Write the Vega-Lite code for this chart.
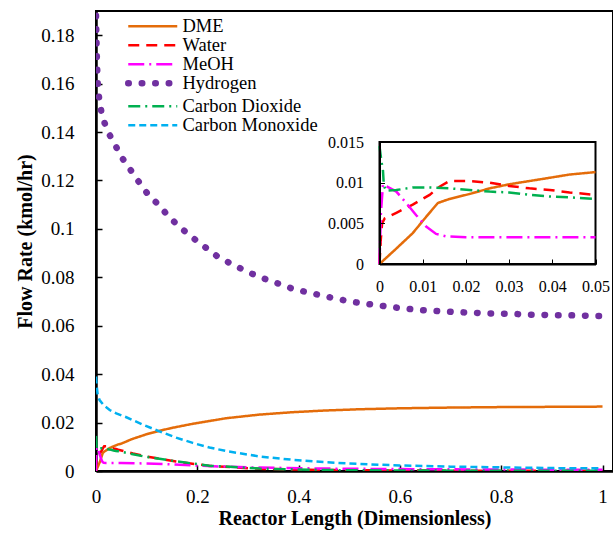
{
  "$schema": "https://vega.github.io/schema/vega-lite/v6.json",
  "width": 517,
  "height": 460,
  "autosize": {"type": "none"},
  "padding": {"left": 96, "top": 11, "right": 0, "bottom": 67},
  "background": "white",
  "config": {
    "font": "Liberation Serif",
    "legend": {"labelFont": "Liberation Serif", "titleFont": "Liberation Serif"},
    "view": {"stroke": "black", "strokeWidth": 2},
    "axis": {"grid": false, "labelColor": "black", "tickColor": "black", "domainColor": "black", "labelFont": "Liberation Serif", "titleFont": "Liberation Serif", "titleColor": "black", "labelFlush": false, "labelOverlap": false}
  },
  "datasets": {
    "d": [
      {"s": "DME", "x": 0, "y": 0}, {"s": "DME", "x": 0.0039, "y": 0.0019}, {"s": "DME", "x": 0.0077, "y": 0.0038}, {"s": "DME", "x": 0.0108, "y": 0.0058}, {"s": "DME", "x": 0.0135, "y": 0.0075}, {"s": "DME", "x": 0.0162, "y": 0.008}, {"s": "DME", "x": 0.0208, "y": 0.0086}, {"s": "DME", "x": 0.0255, "y": 0.0093}, {"s": "DME", "x": 0.03, "y": 0.0098}, {"s": "DME", "x": 0.0347, "y": 0.0102}, {"s": "DME", "x": 0.0394, "y": 0.0106}, {"s": "DME", "x": 0.044, "y": 0.011}, {"s": "DME", "x": 0.05, "y": 0.0113}, {"s": "DME", "x": 0.07, "y": 0.0131}, {"s": "DME", "x": 0.1, "y": 0.0152}, {"s": "DME", "x": 0.125, "y": 0.0166}, {"s": "DME", "x": 0.15, "y": 0.0178}, {"s": "DME", "x": 0.191, "y": 0.0195}, {"s": "DME", "x": 0.257, "y": 0.0218}, {"s": "DME", "x": 0.323, "y": 0.0233}, {"s": "DME", "x": 0.389, "y": 0.0243}, {"s": "DME", "x": 0.454, "y": 0.025}, {"s": "DME", "x": 0.52, "y": 0.0255}, {"s": "DME", "x": 0.6, "y": 0.0259}, {"s": "DME", "x": 0.7, "y": 0.0262}, {"s": "DME", "x": 0.8, "y": 0.0264}, {"s": "DME", "x": 0.9, "y": 0.0265}, {"s": "DME", "x": 1.0, "y": 0.0266},
      {"s": "Water", "x": 0, "y": 0}, {"s": "Water", "x": 0.0003, "y": 0.003}, {"s": "Water", "x": 0.0006, "y": 0.005}, {"s": "Water", "x": 0.0012, "y": 0.0056}, {"s": "Water", "x": 0.0039, "y": 0.0063}, {"s": "Water", "x": 0.0077, "y": 0.0073}, {"s": "Water", "x": 0.0116, "y": 0.0085}, {"s": "Water", "x": 0.0139, "y": 0.0095}, {"s": "Water", "x": 0.0162, "y": 0.0102}, {"s": "Water", "x": 0.0208, "y": 0.0102}, {"s": "Water", "x": 0.0255, "y": 0.01}, {"s": "Water", "x": 0.03, "y": 0.0096}, {"s": "Water", "x": 0.0347, "y": 0.0093}, {"s": "Water", "x": 0.0394, "y": 0.0091}, {"s": "Water", "x": 0.044, "y": 0.0088}, {"s": "Water", "x": 0.05, "y": 0.0085}, {"s": "Water", "x": 0.073, "y": 0.0072}, {"s": "Water", "x": 0.1, "y": 0.006}, {"s": "Water", "x": 0.158, "y": 0.0039}, {"s": "Water", "x": 0.224, "y": 0.0021}, {"s": "Water", "x": 0.323, "y": 0.0009}, {"s": "Water", "x": 0.45, "y": 0.0004}, {"s": "Water", "x": 0.6, "y": 0.0002}, {"s": "Water", "x": 0.8, "y": 0.0001}, {"s": "Water", "x": 1.0, "y": 0.0001},
      {"s": "MeOH", "x": 0, "y": 0}, {"s": "MeOH", "x": 0.0003, "y": 0.006}, {"s": "MeOH", "x": 0.0008, "y": 0.0098}, {"s": "MeOH", "x": 0.0039, "y": 0.0089}, {"s": "MeOH", "x": 0.0062, "y": 0.0075}, {"s": "MeOH", "x": 0.0085, "y": 0.006}, {"s": "MeOH", "x": 0.0108, "y": 0.0046}, {"s": "MeOH", "x": 0.0131, "y": 0.0037}, {"s": "MeOH", "x": 0.0154, "y": 0.0034}, {"s": "MeOH", "x": 0.02, "y": 0.0033}, {"s": "MeOH", "x": 0.03, "y": 0.0033}, {"s": "MeOH", "x": 0.04, "y": 0.0033}, {"s": "MeOH", "x": 0.05, "y": 0.0033}, {"s": "MeOH", "x": 0.1, "y": 0.0031}, {"s": "MeOH", "x": 0.15, "y": 0.0027}, {"s": "MeOH", "x": 0.2, "y": 0.0022}, {"s": "MeOH", "x": 0.3, "y": 0.0015}, {"s": "MeOH", "x": 0.45, "y": 0.001}, {"s": "MeOH", "x": 0.6, "y": 0.0008}, {"s": "MeOH", "x": 0.8, "y": 0.0006}, {"s": "MeOH", "x": 1.0, "y": 0.0005},
      {"s": "Hydrogen", "x": 0, "y": 0.188}, {"s": "Hydrogen", "x": 0.001, "y": 0.177}, {"s": "Hydrogen", "x": 0.002, "y": 0.168}, {"s": "Hydrogen", "x": 0.0035, "y": 0.16}, {"s": "Hydrogen", "x": 0.0055, "y": 0.155}, {"s": "Hydrogen", "x": 0.01, "y": 0.149}, {"s": "Hydrogen", "x": 0.017, "y": 0.1437}, {"s": "Hydrogen", "x": 0.027, "y": 0.1388}, {"s": "Hydrogen", "x": 0.04, "y": 0.1338}, {"s": "Hydrogen", "x": 0.053, "y": 0.1289}, {"s": "Hydrogen", "x": 0.069, "y": 0.1241}, {"s": "Hydrogen", "x": 0.085, "y": 0.1193}, {"s": "Hydrogen", "x": 0.1, "y": 0.115}, {"s": "Hydrogen", "x": 0.119, "y": 0.1109}, {"s": "Hydrogen", "x": 0.137, "y": 0.1067}, {"s": "Hydrogen", "x": 0.156, "y": 0.1026}, {"s": "Hydrogen", "x": 0.176, "y": 0.0989}, {"s": "Hydrogen", "x": 0.198, "y": 0.0952}, {"s": "Hydrogen", "x": 0.219, "y": 0.0919}, {"s": "Hydrogen", "x": 0.24, "y": 0.0886}, {"s": "Hydrogen", "x": 0.265, "y": 0.0858}, {"s": "Hydrogen", "x": 0.289, "y": 0.0833}, {"s": "Hydrogen", "x": 0.313, "y": 0.081}, {"s": "Hydrogen", "x": 0.339, "y": 0.0789}, {"s": "Hydrogen", "x": 0.364, "y": 0.0771}, {"s": "Hydrogen", "x": 0.389, "y": 0.0752}, {"s": "Hydrogen", "x": 0.418, "y": 0.0738}, {"s": "Hydrogen", "x": 0.445, "y": 0.0725}, {"s": "Hydrogen", "x": 0.471, "y": 0.0713}, {"s": "Hydrogen", "x": 0.497, "y": 0.0702}, {"s": "Hydrogen", "x": 0.524, "y": 0.0693}, {"s": "Hydrogen", "x": 0.553, "y": 0.0686}, {"s": "Hydrogen", "x": 0.579, "y": 0.0678}, {"s": "Hydrogen", "x": 0.606, "y": 0.0672}, {"s": "Hydrogen", "x": 0.632, "y": 0.0666}, {"s": "Hydrogen", "x": 0.662, "y": 0.0662}, {"s": "Hydrogen", "x": 0.688, "y": 0.0659}, {"s": "Hydrogen", "x": 0.714, "y": 0.0656}, {"s": "Hydrogen", "x": 0.743, "y": 0.0654}, {"s": "Hydrogen", "x": 0.77, "y": 0.0651}, {"s": "Hydrogen", "x": 0.797, "y": 0.065}, {"s": "Hydrogen", "x": 0.823, "y": 0.0649}, {"s": "Hydrogen", "x": 0.853, "y": 0.0646}, {"s": "Hydrogen", "x": 0.88, "y": 0.0645}, {"s": "Hydrogen", "x": 0.907, "y": 0.0643}, {"s": "Hydrogen", "x": 0.935, "y": 0.0643}, {"s": "Hydrogen", "x": 0.961, "y": 0.0642}, {"s": "Hydrogen", "x": 0.991, "y": 0.064}, {"s": "Hydrogen", "x": 1.0, "y": 0.064},
      {"s": "Carbon Dioxide", "x": 0, "y": 0.0145}, {"s": "Carbon Dioxide", "x": 0.0004, "y": 0.0128}, {"s": "Carbon Dioxide", "x": 0.0008, "y": 0.0115}, {"s": "Carbon Dioxide", "x": 0.001, "y": 0.0097}, {"s": "Carbon Dioxide", "x": 0.0015, "y": 0.009}, {"s": "Carbon Dioxide", "x": 0.0039, "y": 0.0091}, {"s": "Carbon Dioxide", "x": 0.0077, "y": 0.0094}, {"s": "Carbon Dioxide", "x": 0.0116, "y": 0.0094}, {"s": "Carbon Dioxide", "x": 0.0162, "y": 0.0093}, {"s": "Carbon Dioxide", "x": 0.0208, "y": 0.0091}, {"s": "Carbon Dioxide", "x": 0.0255, "y": 0.0089}, {"s": "Carbon Dioxide", "x": 0.03, "y": 0.0088}, {"s": "Carbon Dioxide", "x": 0.0347, "y": 0.0085}, {"s": "Carbon Dioxide", "x": 0.0394, "y": 0.0083}, {"s": "Carbon Dioxide", "x": 0.044, "y": 0.0082}, {"s": "Carbon Dioxide", "x": 0.05, "y": 0.008}, {"s": "Carbon Dioxide", "x": 0.073, "y": 0.0069}, {"s": "Carbon Dioxide", "x": 0.1, "y": 0.0058}, {"s": "Carbon Dioxide", "x": 0.158, "y": 0.004}, {"s": "Carbon Dioxide", "x": 0.224, "y": 0.0022}, {"s": "Carbon Dioxide", "x": 0.323, "y": 0.001}, {"s": "Carbon Dioxide", "x": 0.45, "y": 0.0004}, {"s": "Carbon Dioxide", "x": 0.6, "y": 0.0002}, {"s": "Carbon Dioxide", "x": 0.8, "y": 0.0001}, {"s": "Carbon Dioxide", "x": 1.0, "y": 0.0001},
      {"s": "Carbon Monoxide", "x": 0, "y": 0.039}, {"s": "Carbon Monoxide", "x": 0.001, "y": 0.036}, {"s": "Carbon Monoxide", "x": 0.003, "y": 0.032}, {"s": "Carbon Monoxide", "x": 0.007, "y": 0.0293}, {"s": "Carbon Monoxide", "x": 0.015, "y": 0.0272}, {"s": "Carbon Monoxide", "x": 0.027, "y": 0.0252}, {"s": "Carbon Monoxide", "x": 0.04, "y": 0.0238}, {"s": "Carbon Monoxide", "x": 0.06, "y": 0.0222}, {"s": "Carbon Monoxide", "x": 0.092, "y": 0.0192}, {"s": "Carbon Monoxide", "x": 0.125, "y": 0.0164}, {"s": "Carbon Monoxide", "x": 0.158, "y": 0.0138}, {"s": "Carbon Monoxide", "x": 0.191, "y": 0.0116}, {"s": "Carbon Monoxide", "x": 0.224, "y": 0.0097}, {"s": "Carbon Monoxide", "x": 0.258, "y": 0.0082}, {"s": "Carbon Monoxide", "x": 0.323, "y": 0.006}, {"s": "Carbon Monoxide", "x": 0.389, "y": 0.0046}, {"s": "Carbon Monoxide", "x": 0.454, "y": 0.0036}, {"s": "Carbon Monoxide", "x": 0.52, "y": 0.0029}, {"s": "Carbon Monoxide", "x": 0.6, "y": 0.0023}, {"s": "Carbon Monoxide", "x": 0.7, "y": 0.0018}, {"s": "Carbon Monoxide", "x": 0.8, "y": 0.0015}, {"s": "Carbon Monoxide", "x": 0.9, "y": 0.0012}, {"s": "Carbon Monoxide", "x": 1.0, "y": 0.0011}
    ]
  },
  "layer": [
    {
      "data": {"name": "d"},
      "encoding": {
        "x": {"field": "x", "type": "quantitative", "scale": {"domain": [0, 1.0207], "nice": false, "zero": false},
          "axis": {"values": [0, 0.2, 0.4, 0.6, 0.8, 1], "format": "~g", "labelFontSize": 19, "tickSize": -6, "tickWidth": 1.5, "labelPadding": 22, "domainWidth": 2.5, "title": "Reactor Length (Dimensionless)", "titleFontSize": 20, "titleFontWeight": "bold", "titlePadding": 2}},
        "y": {"field": "y", "type": "quantitative", "scale": {"domain": [0, 0.19], "nice": false},
          "axis": {"values": [0, 0.02, 0.04, 0.06, 0.08, 0.1, 0.12, 0.14, 0.16, 0.18], "format": "~g", "labelFontSize": 19, "tickSize": -6, "tickWidth": 1.5, "labelPadding": 28, "domainWidth": 2.5, "title": "Flow Rate (kmol/hr)", "titleFontSize": 20, "titleFontWeight": "bold", "titlePadding": 5}},
        "color": {"field": "s", "type": "nominal",
          "scale": {"domain": ["DME", "Water", "MeOH", "Hydrogen", "Carbon Dioxide", "Carbon Monoxide"], "range": ["#E46C0A", "#FF0000", "#FF00FF", "#7030A0", "#00B050", "#00B0F0"]},
          "legend": {"orient": "none", "legendX": 63, "legendY": 6, "padding": 0, "title": null, "labelFontSize": 18.5, "labelColor": "black", "symbolSize": 100, "symbolStrokeWidth": 2.5, "symbolType": "M-8,0H1.8", "rowPadding": -4, "labelOffset": 5,
            "encode": {"symbols": {"update": {"strokeWidth": {"signal": "datum.value === 'Hydrogen' ? 6.5 : 2.5"}, "strokeCap": {"signal": "datum.value === 'Hydrogen' ? 'round' : 'butt'"}}}}}},
        "strokeDash": {"field": "s", "type": "nominal",
          "scale": {"domain": ["DME", "Water", "MeOH", "Hydrogen", "Carbon Dioxide", "Carbon Monoxide"], "range": [[1, 0], [11, 7], [16, 5, 2, 5], [0.5, 13], [12, 5, 2, 5], [7, 4]]}}
      },
      "layer": [
        {"transform": [{"filter": "datum.s !== 'Hydrogen'"}], "mark": {"type": "line", "strokeWidth": 2.5, "clip": true}},
        {"transform": [{"filter": "datum.s === 'Hydrogen'"}], "mark": {"type": "line", "strokeWidth": 6.5, "strokeCap": "round", "clip": true}}
      ]
    },
    {
      "layer": [
        {
          "data": {"values": [{}]},
          "mark": {"type": "rect", "fill": "white", "stroke": "black", "strokeWidth": 2},
          "encoding": {
            "x": {"datum": 0, "type": "quantitative", "scale": {"domain": [0, 0.05], "range": [283.5, 499.5], "nice": false, "zero": false},
              "axis": {"orient": "bottom", "offset": -207, "values": [0, 0.01, 0.02, 0.03, 0.04, 0.05], "format": "~g", "labelFontSize": 16, "tickSize": -5, "labelPadding": 19, "domainWidth": 2, "title": null, "zindex": 2}},
            "x2": {"datum": 0.05},
            "y": {"datum": 0, "type": "quantitative", "scale": {"domain": [0, 0.015], "range": [253, 131], "nice": false, "zero": false},
              "axis": {"orient": "left", "offset": -283.5, "values": [0, 0.005, 0.01, 0.015], "format": "~g", "labelFontSize": 16, "tickSize": -5, "labelPadding": 21, "domainWidth": 2, "title": null, "zindex": 2}},
            "y2": {"datum": 0.015}
          }
        },
        {
          "data": {"name": "d"},
          "transform": [{"filter": "datum.x <= 0.0501 && datum.s !== 'Hydrogen' && datum.s !== 'Carbon Monoxide'"}],
          "mark": {"type": "line", "strokeWidth": 2.5, "clip": true},
          "encoding": {
            "x": {"field": "x", "type": "quantitative", "scale": {"domain": [0, 0.05], "range": [283.5, 499.5], "nice": false, "zero": false}},
            "y": {"field": "y", "type": "quantitative", "scale": {"domain": [0, 0.015], "range": [253, 131], "nice": false, "zero": false}},
            "color": {"field": "s", "type": "nominal"},
            "strokeDash": {"field": "s", "type": "nominal"}
          }
        }
      ]
    }
  ],
  "resolve": {"scale": {"x": "independent", "y": "independent"}, "axis": {"x": "independent", "y": "independent"}}
}
